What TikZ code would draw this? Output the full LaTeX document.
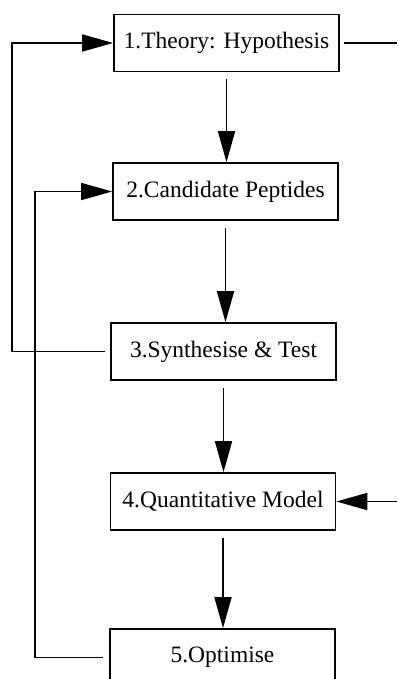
\documentclass[tikz,border=0pt]{standalone}
\usepackage{fontspec}
\setmainfont{Liberation Serif}
\usetikzlibrary{arrows.meta}
\begin{document}
\begin{tikzpicture}[x=1pt, y=-1pt,
    kasten/.style={draw, line width=1.7pt, minimum width=225pt, minimum height=57pt, inner sep=0pt, font=\fontsize{23.5}{27}\selectfont},
    linie/.style={line width=1.7pt},
    pfeil/.style={linie, -{Triangle[length=31pt, width=17pt]}}]
    %Rahmen
    \useasboundingbox (0,0) rectangle (397,679);
    \clip (0,0) rectangle (397,679);
    
    %Kaesten
    \node[kasten] (b1) at (226.5,43) {1.Theory: Hypothesis};
    \node[kasten] (b2) at (225.5,191.5) {2.Candidate Peptides};
    \node[kasten] (b3) at (223.5,351.5) {3.Synthesise \& Test};
    \node[kasten] (b4) at (223,501.5) {4.Quantitative Model};
    \node[kasten] (b5) at (222.5,657.5) {5.Optimise};
    
    %Hilfspunkte am Rand
    \coordinate (rand) at (397,0);
    \coordinate (links1) at (12,0);
    \coordinate (links2) at (35,0);
    
    %Pfeile nach unten
    \foreach \a/\b in {b1/b2, b2/b3, b3/b4, b4/b5} {
        \draw[pfeil, shorten <=7pt] (\a.south) -- (\a.south |- \b.north);
    }%Hauptkette
    
    %Rueckkopplung links
    \draw[pfeil, shorten <=5pt] (b3.west) -- (b3.west -| links1) |- (b1.west);
    \draw[pfeil, shorten <=6pt] (b5.west) -- (b5.west -| links2) |- (b2.west);
    
    %Rueckkopplung rechts
    \draw[linie, shorten <=4pt] (b1.east) -- (b1.east -| rand);
    \draw[pfeil] (b4.east -| rand) -- (b4.east);
\end{tikzpicture}
\end{document}
